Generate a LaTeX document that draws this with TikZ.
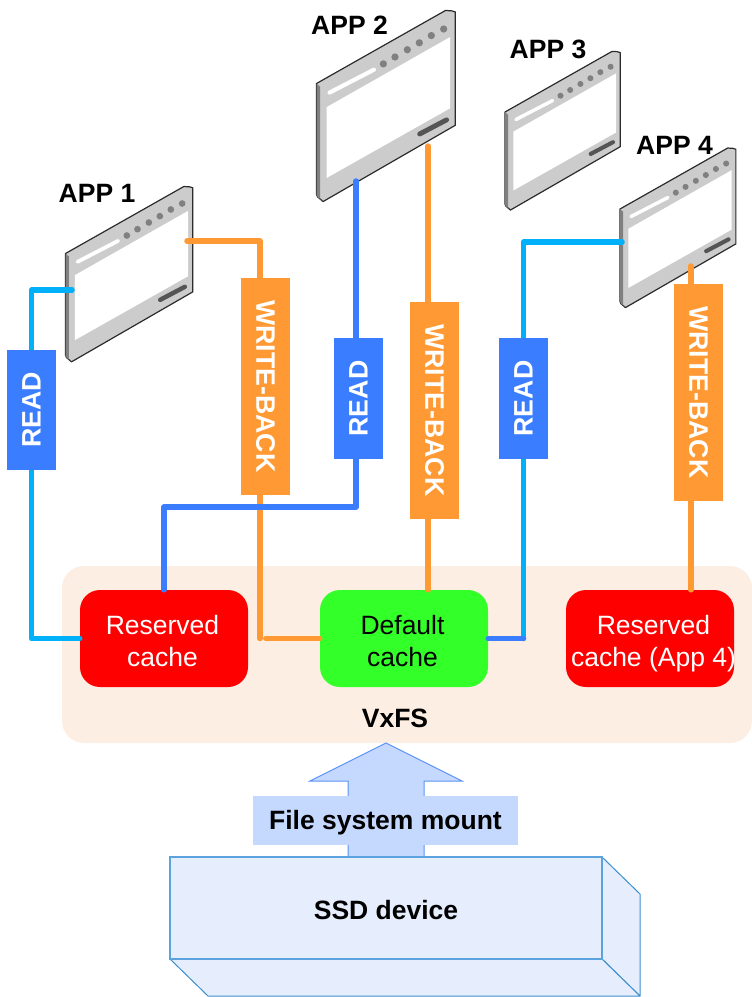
\documentclass[tikz,border=0pt]{standalone}
\usepackage{fontspec}
\setmainfont{Liberation Sans}
\definecolor{wireLB}{HTML}{00B0F8}
\definecolor{wireB}{HTML}{3B7DFF}
\definecolor{wireO}{HTML}{FF9933}
\definecolor{fsbg}{HTML}{FCEEE3}
\definecolor{arrowfill}{HTML}{C5D9FF}
\definecolor{arrowline}{HTML}{5B93F5}
\definecolor{ssdfill}{HTML}{E6EEFD}
\definecolor{ssdline}{HTML}{5BA3DC}
\definecolor{ssdedge}{HTML}{3D8FD0}
\definecolor{winbody}{HTML}{CCCCCC}
\definecolor{winside}{HTML}{808080}
\definecolor{winline}{HTML}{2B2B2B}
\definecolor{winhandle}{HTML}{555555}
\pgfdeclarelayer{base}
\pgfdeclarelayer{wires}
\pgfsetlayers{base,wires,main}
\newcommand\appwin[3]{%
\begin{scope}[shift={(#1,#2)},scale=#3/3]
 \filldraw[fill=winbody,draw=winline,line width=1.2pt,line join=round]
   (0,0) -- (355,-201) -- (372,-200) -- (382,-197) -- (382,115) -- (18,325) -- (3,312) -- (0,305) -- cycle;
 \fill[winside] (0,0) -- (10,9) -- (10,318) -- (18,324) -- (3,312) -- (0,305) -- cycle;
 \fill[white] (28,65) -- (368,-128) -- (368,68) -- (28,260) -- cycle;
 \draw[white,line width=3.8pt*#3,line cap=round] (36,25) -- (158,-38);
 \foreach \p/\q in {184/-54,216/-73,250/-93,283/-112,316/-132,350/-150}
   \fill[winside] (\p,\q) circle (10);
 \draw[winhandle,line width=4.5pt*#3,line cap=round] (284,139) -- (358,100);
\end{scope}}
\tikzset{
 x=1pt,y=-1pt,
 boldtxt/.style={font=\fontsize{26.5}{32}\bfseries\selectfont,text=black,inner sep=0pt},
 cachebox/.style={rounded corners=20pt,minimum width=168pt,minimum height=97pt,inner sep=0pt,align=center,font=\fontsize{26.5}{32}\selectfont},
 tagbox/.style={minimum width=49pt,inner sep=0pt,text=white,font=\fontsize{26.7}{32}\bfseries\selectfont},
 wire/.style={line width=5.5pt,line cap=round,line join=round},
 lb/.style={wire,draw=wireLB},
 bl/.style={wire,draw=wireB},
 or/.style={wire,draw=wireO},
}
\begin{document}
\begin{tikzpicture}
\useasboundingbox (0,0) rectangle (752,997);
% all of this lies under the wires
\begin{pgfonlayer}{base}
\fill[fsbg,rounded corners=22pt] (62,566) rectangle (752,743);
\node[boldtxt] (vxfs) at (395,718) {VxFS};
\node[cachebox,fill=red,text=white] (cache1) at (164,638.5) {\rule{0pt}{24pt}\hspace*{-3pt}Reserved\\\hspace*{-3pt}cache};
\node[cachebox,fill={rgb,255:red,51;green,255;blue,41},text=black] (cache2) at (404,638.5) {\rule{0pt}{24pt}\hspace*{-3pt}Default\\\hspace*{-3pt}cache};
\node[cachebox,fill=red,text=white] (cache3) at (650,638.5) {\rule{0pt}{24pt}\makebox[0pt]{\hspace*{7pt}Reserved}\\\smash{\makebox[0pt]{\hspace*{7pt}cache (App 4)}}};
\filldraw[fill=arrowfill,draw=arrowline,line width=1pt,line join=miter]
  (348,857) -- (348,781) -- (310,781) -- (386,743) -- (462,781) -- (424,781) -- (424,857) -- cycle;
\node[fill=arrowfill,minimum width=265pt,minimum height=49pt,boldtxt] (mount) at (385.5,820.5) {\rule{0pt}{23pt}File system mount};
\filldraw[fill=ssdfill,draw=ssdedge,line width=1pt,line join=round]
  (602,857) -- (640,894) -- (640,996) -- (602,959) -- cycle;
\filldraw[fill=ssdfill,draw=ssdedge,line width=1pt,line join=round]
  (170,959) -- (208,996) -- (640,996) -- (602,959) -- cycle;
\node[draw=ssdline,fill=ssdfill,line width=1.5pt,minimum width=432pt,minimum height=102pt,boldtxt] (ssd) at (386,908) {\rule{0pt}{23pt}SSD device};
\appwin{65.5}{253.5}{1}
\appwin{316.5}{83.5}{1.09}
\appwin{505}{112}{.905}
\appwin{620}{209}{.91}
\node[boldtxt] (app1) at (97,193) {APP 1};
\node[boldtxt] (app2) at (349.5,25) {APP 2};
\node[boldtxt] (app3) at (548,49) {APP 3};
\node[boldtxt] (app4) at (674.5,145) {APP 4};
\end{pgfonlayer}
% connector ends on the windows
\coordinate (a1r) at (72,290);
\coordinate (a1w) at (187,241);
\coordinate (a2r) at (356,181);
\coordinate (a2w) at (428,146);
\coordinate (a4r) at (622,242);
\coordinate (a4w) at (691,266);
% tags
\node[tagbox,fill=wireB,minimum height=120pt] (read1) at (31.5,410) {\rotatebox{90}{READ}};
\node[tagbox,fill=wireO,minimum height=217pt] (wb1) at (265.5,386.5) {\rotatebox{-90}{WRITE-BACK}};
\node[tagbox,fill=wireB,minimum height=121pt] (read2) at (358.5,398.5) {\rotatebox{90}{READ}};
\node[tagbox,fill=wireO,minimum height=217pt] (wb2) at (434.5,410.5) {\rotatebox{-90}{WRITE-BACK}};
\node[tagbox,fill=wireB,minimum height=121pt] (read3) at (523.5,398.5) {\rotatebox{90}{READ}};
\node[tagbox,fill=wireO,minimum height=217pt] (wb3) at (698.5,392.5) {\rotatebox{-90}{WRITE-BACK}};
% connectors
\begin{pgfonlayer}{wires}
\draw[lb] (a1r) -| (read1.north);
\draw[lb] (read1.south) |- (cache1.west);
\draw[or] (a1w) -| ([xshift=-5.5pt]wb1.north);
\draw[or] ([xshift=-5.5pt]wb1.south) -- ([xshift=-5.5pt]wb1.south |- cache1.west);
\draw[or] ([xshift=-54pt]cache2.west) -- (cache2.west);
\draw[bl] (a2r) -- ([xshift=-2.5pt]read2.north);
\draw[bl] ([xshift=-2.5pt]read2.south) -- ++(0,48) -| (cache1.north);
\draw[or] (a2w) -- ([xshift=-6.5pt]wb2.north);
\draw[or] ([xshift=-6.5pt]wb2.south) -- ([xshift=-6.5pt]wb2.south |- cache2.north);
\draw[lb] (a4r) -| (read3.north);
\draw[lb] (read3.south) -- (read3.south |- cache2.east);
\draw[bl] (cache2.east) -- (read3.south |- cache2.east);
\draw[or] (a4w) -- ([xshift=-7.5pt]wb3.north);
\draw[or] ([xshift=-7.5pt]wb3.south) -- ([xshift=-7.5pt]wb3.south |- cache3.north);
\end{pgfonlayer}
\end{tikzpicture}
\end{document}
